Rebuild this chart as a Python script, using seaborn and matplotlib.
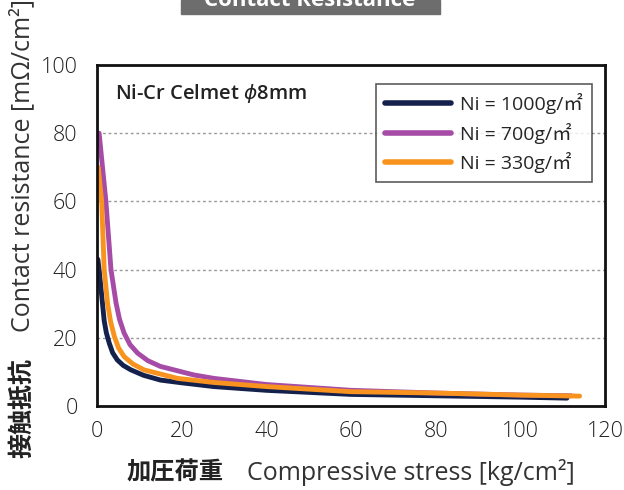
import pandas as pd
import matplotlib.pyplot as plt
import seaborn as sns
from matplotlib.patches import Rectangle

# Data
x_1000 = [0.2, 0.5, 0.9, 1.7, 2.2, 2.9, 3.7, 4.8, 6.2, 8, 11, 15, 20, 27.6, 40, 60, 80, 100, 111]
y_1000 = [43, 40, 35, 25, 21.5, 18.4, 15.6, 13.5, 11.9, 10.6, 9.0, 7.6, 6.8, 5.7, 4.6, 3.4, 3.0, 2.6, 2.3]

x_700 = [0.5, 2.1, 3.3, 4.5, 5.3, 6.4, 7.8, 9.6, 12, 15, 22.9, 27.6, 40, 60, 80, 100, 112]
y_700 = [80, 60, 40, 30.2, 25.5, 21.4, 18.0, 15.5, 13.3, 11.6, 9.1, 8.1, 6.3, 4.6, 3.8, 3.2, 3.0]

x_330 = [0.3, 1.1, 1.7, 2.5, 3.2, 4.1, 5.1, 6.4, 8.5, 11.1, 19, 27.6, 40, 60, 80, 100, 114]
y_330 = [70, 60, 40, 30, 24.8, 20.4, 17.0, 14.5, 12.3, 10.6, 8.1, 6.9, 5.7, 4.2, 3.8, 3.2, 2.9]

labels = ["Ni = 1000g/㎡", "Ni = 700g/㎡", "Ni = 330g/㎡"]
colors = ["#14214d", "#a64ca6", "#f7931e"]

df = pd.concat([
    pd.DataFrame({"x": x_1000, "y": y_1000, "s": labels[0]}),
    pd.DataFrame({"x": x_700, "y": y_700, "s": labels[1]}),
    pd.DataFrame({"x": x_330, "y": y_330, "s": labels[2]}),
])

sns.set_style("white")
plt.rcParams["font.family"] = ["Open Sans", "Noto Sans CJK JP", "DejaVu Sans"]

fig = plt.figure(figsize=(6.24, 4.90), dpi=100)
ax = fig.add_axes([97 / 624, 1 - 406 / 490, 508 / 624, 341 / 490])

sns.lineplot(data=df, x="x", y="y", hue="s", palette=colors, linewidth=3.5,
             ax=ax, sort=False)
for ln in ax.lines:
    ln.set_solid_capstyle("round")
    ln.set_solid_joinstyle("round")

ax.set_xlim(0, 120)
ax.set_ylim(0, 100)
ax.set_xticks(range(0, 121, 20))
ax.set_yticks(range(0, 101, 20))
ax.tick_params(direction="in", length=6, width=1.5, labelsize=15.5,
               colors="#222222", pad=14)
ax.tick_params(axis="x", pad=11)
for t in ax.get_xticklabels() + ax.get_yticklabels():
    t.set_fontweight("light")
for y in [20, 40, 60, 80]:
    ax.axhline(y, color="#999999", linestyle=(0, (2, 2)), linewidth=1, zorder=0)
for s in ax.spines.values():
    s.set_linewidth(2)
    s.set_color("#111111")
ax.set_xlabel("")
ax.set_ylabel("")

ax.text(0.035, 0.915, "Ni-Cr Celmet $\\phi$8mm", transform=ax.transAxes,
        fontsize=14.5, fontweight="semibold", va="center", color="#222222")

leg = ax.legend(loc="upper right", bbox_to_anchor=(592 / 624, 1 - 84 / 490),
                bbox_transform=fig.transFigure, fontsize=14, frameon=True,
                fancybox=False, edgecolor="#333333", handlelength=3.4,
                borderpad=0.45, labelspacing=0.45, borderaxespad=0,
                handletextpad=0.5, title=None)
leg.get_frame().set_linewidth(1.2)
for line in leg.get_lines():
    line.set_linewidth(4)
    line.set_solid_capstyle("round")

# Axis labels (bold Japanese + regular English)
fig.text(22 / 624, 1 - 458 / 490, "接触抵抗", rotation=90, fontsize=18,
         fontweight="bold", family="Noto Sans CJK JP", ha="center", va="bottom",
         color="#222222")
fig.text(22 / 624, 1 - 332 / 490, "Contact resistance [mΩ/cm²]", rotation=90,
         fontsize=18, ha="center", va="bottom", color="#333333")
fig.text(127 / 624, 1 - 472 / 490, "加圧荷重", fontsize=17.5, fontweight="bold",
         family="Noto Sans CJK JP", ha="left", va="center", color="#222222")
fig.text(247 / 624, 1 - 472 / 490, "Compressive stress [kg/cm²]", fontsize=18,
         ha="left", va="center", color="#333333")

# Cut-off title banner at the top
fig.patches.append(Rectangle((181 / 624, 1 - 14 / 490), 259 / 624, 14 / 490,
                             transform=fig.transFigure, color="#6d6d6d"))
fig.text(310 / 624, 1 - 6 / 490, "Contact Resistance", fontsize=16,
         fontweight="bold", color="white", ha="center", va="baseline")

plt.savefig("out.png", dpi=100)
